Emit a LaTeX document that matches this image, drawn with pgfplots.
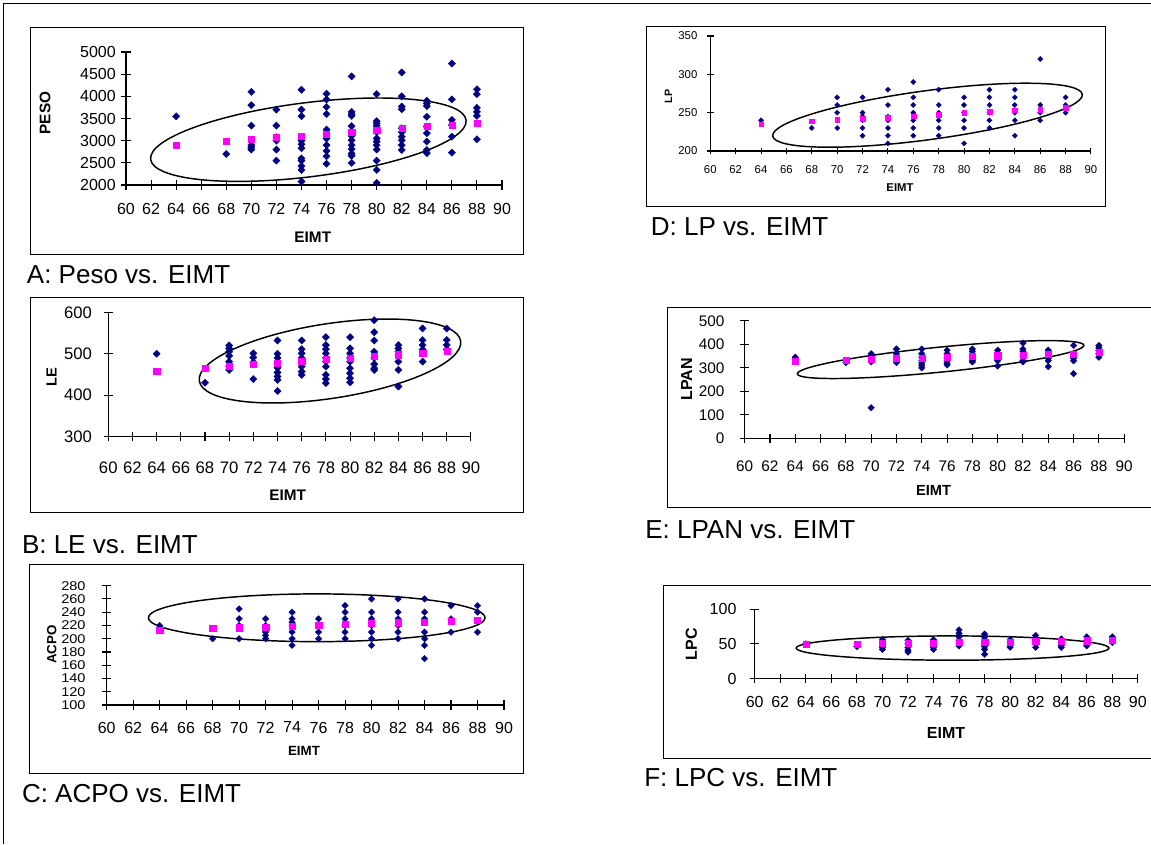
\documentclass[border=0pt]{standalone}
\usepackage{fontspec}
\setmainfont{Liberation Sans}
\usepackage{pgfplots}
\pgfplotsset{compat=1.18}
\usetikzlibrary{shapes.geometric}
\definecolor{navy}{RGB}{0,0,128}
\definecolor{mag}{RGB}{255,0,255}
\newcommand{\fs}[1]{\fontsize{#1}{#1}\selectfont}
\tikzset{ell/.style={draw, ellipse, line width=1.1pt, inner sep=0pt, outer sep=0pt}}
\pgfplotsset{
  panel/.style={
    scale only axis, anchor=south west, clip=false,
    axis x line=bottom, axis y line=left,
    axis line style={-, line width=0.8pt, black},
    xmin=60, xmax=90, xtick={60,62,...,90},
    tick align=center, major tick length=7pt,
    tick style={black, line width=0.8pt},
    scaled ticks=false,
    /pgf/number format/1000 sep={},
    /pgf/number format/assume math mode=true,
    xticklabel style={anchor=north, inner sep=0pt},
    yticklabel style={anchor=east, inner sep=0pt},
  },
  dia/.style={only marks, mark=square*, mark size=#1, mark options={rotate=45, fill=navy, draw=navy, line width=0.2pt}},
  sq/.style={only marks, mark=square*, mark size=#1, mark options={fill=mag, draw=mag, line width=0.2pt}},
}
\begin{document}
\begin{tikzpicture}
\useasboundingbox (0,0) rectangle (863.25pt,-633pt);
\draw[line width=0.75pt] (2.25pt,-633pt) -- (2.25pt,-2.25pt) -- (863.25pt,-2.25pt);
% boxes
\draw[line width=0.75pt] (22.5pt,-20.25pt) rectangle (392.25pt,-190.5pt);
\draw[line width=0.75pt] (22.5pt,-222.75pt) rectangle (392.25pt,-384pt);
\draw[line width=0.75pt] (21.75pt,-423pt) rectangle (392.25pt,-579.75pt);
\draw[line width=0.75pt] (484.5pt,-19.5pt) rectangle (828.75pt,-154.5pt);
\draw[line width=0.75pt] (500.25pt,-230.25pt) rectangle (866pt,-380.25pt);
\draw[line width=0.75pt] (497.25pt,-438.75pt) rectangle (866pt,-568.5pt);
% captions
\node[anchor=base west, inner sep=0pt, font=\fs{19.5}] at (20pt,-212.5pt) {A: Peso vs. EIMT};
\node[anchor=base west, inner sep=0pt, font=\fs{19.5}] at (16.3pt,-415pt) {B: LE vs. EIMT};
\node[anchor=base west, inner sep=0pt, font=\fs{19.5}] at (16.3pt,-601.5pt) {C: ACPO vs. EIMT};
\node[anchor=base west, inner sep=0pt, font=\fs{19.5}] at (488pt,-176.3pt) {D: LP vs. EIMT};
\node[anchor=base west, inner sep=0pt, font=\fs{19.5}] at (483.75pt,-403.7pt) {E: LPAN vs. EIMT};
\node[anchor=base west, inner sep=0pt, font=\fs{19.5}] at (483pt,-590pt) {F: LPC vs. EIMT};

% ---------------- A ----------------
\begin{axis}[panel, at={(94.5pt,-138.75pt)}, width=282pt, height=99.75pt,
  ymin=2000, ymax=5000, ytick={2000,2500,...,5000},
  ticklabel style={font=\fs{12}},
  xticklabel style={yshift=-10pt}, yticklabel style={xshift=-4pt}]
\addplot[dia=1.95pt] coordinates {
(64,3550)
(68,2700)
(70,4100)(70,3800)(70,3340)(70,2900)(70,2850)(70,2800)
(72,3700)(72,3340)(72,3080)(72,3000)(72,2800)(72,2550)
(74,4150)(74,3700)(74,3550)(74,3000)(74,2920)(74,2830)(74,2600)(74,2550)(74,2430)(74,2340)(74,2080)
(76,4060)(76,3930)(76,3760)(76,3600)(76,3250)(76,3150)(76,3050)(76,2900)(76,2770)(76,2650)(76,2480)
(78,4450)(78,3650)(78,3600)(78,3560)(78,3330)(78,3200)(78,3110)(78,3010)(78,2900)(78,2810)(78,2710)(78,2660)(78,2500)
(80,4050)(80,3440)(80,3390)(80,3340)(80,3190)(80,3050)(80,2980)(80,2900)(80,2800)(80,2550)(80,2340)(80,2050)
(82,4540)(82,4000)(82,3770)(82,3710)(82,3280)(82,3190)(82,3090)(82,3010)(82,2900)(82,2790)
(84,3900)(84,3840)(84,3780)(84,3540)(84,3320)(84,3170)(84,2980)(84,2790)(84,2720)
(86,4740)(86,3930)(86,3470)(86,3350)(86,3090)(86,2730)
(88,4160)(88,4050)(88,3740)(88,3650)(88,3560)(88,3030)
};
\addplot[sq=2.3pt] coordinates {
(64,2900)(68,2985)(70,3030)(72,3075)(74,3105)(76,3143)(78,3188)(80,3233)(82,3278)(84,3323)(86,3353)(88,3398)
};
\node[ell, minimum width=238.4pt, minimum height=55.6pt, rotate=7.1] at (axis cs:74.55,3022) {};
\end{axis}
\node[rotate=90, font=\bfseries\fs{11.5}] at (33.75pt,-84.75pt) {PESO};
\node[font=\bfseries\fs{11.5}] at (234.6pt,-178.1pt) {EIMT};

% ---------------- B ----------------
\begin{axis}[panel, at={(81.2pt,-327.5pt)}, width=272pt, height=93.3pt,
  ymin=300, ymax=600, ytick={300,400,500,600},
  ticklabel style={font=\fs{12.5}},
  xticklabel style={yshift=-15pt}, yticklabel style={xshift=-8.5pt}]
\addplot[dia=1.95pt] coordinates {
(64,500)
(68,430)
(70,520)(70,513)(70,505)(70,495)(70,481)(70,470)(70,461)
(72,501)(72,491)(72,480)(72,439)
(74,532)(74,500)(74,490)(74,478)(74,466)(74,455)(74,445)(74,437)(74,410)
(76,532)(76,511)(76,501)(76,490)(76,481)(76,469)(76,457)(76,449)
(78,540)(78,521)(78,511)(78,501)(78,490)(78,481)(78,469)(78,449)(78,439)(78,429)
(80,540)(80,513)(80,501)(80,490)(80,481)(80,465)(80,453)(80,441)(80,431)
(82,581)(82,552)(82,532)(82,505)(82,490)(82,475)(82,465)(82,461)
(84,521)(84,513)(84,505)(84,497)(84,481)(84,461)(84,421)
(86,561)(86,533)(86,521)(86,510)(86,481)
(88,561)(88,533)(88,521)(88,510)
};
\addplot[sq=2.3pt] coordinates {
(64,458)(68,466)(70,470)(72,474)(74,478)(76,482)(78,486)(80,490)(82,494)(84,498)(86,502)(88,506)
};
\node[ell, minimum width=198.3pt, minimum height=56pt, rotate=8.7] at (axis cs:78.34,482.5) {};
\end{axis}
\node[rotate=90, font=\bfseries\fs{11}] at (38.75pt,-283.1pt) {LE};
\node[font=\bfseries\fs{11.5}] at (215.8pt,-371.25pt) {EIMT};

% ---------------- C ----------------
\begin{axis}[panel, at={(80pt,-528.75pt)}, width=298pt, height=89.5pt,
  ymin=100, ymax=280, ytick={100,120,...,280},
  xticklabel style={font=\fs{12}, yshift=-9pt},
  yticklabel style={font=\fs{9.5}, xscale=1.15, xshift=-10.5pt}]
\addplot[dia=1.75pt] coordinates {
(64,220)
(68,200)
(70,245)(70,230)(70,220)(70,200)
(72,230)(72,220)(72,210)(72,205)(72,200)
(74,240)(74,230)(74,225)(74,220)(74,210)(74,200)(74,190)
(76,230)(76,220)(76,210)(76,200)
(78,250)(78,240)(78,230)(78,220)(78,210)(78,200)
(80,260)(80,240)(80,230)(80,220)(80,210)(80,200)(80,190)
(82,260)(82,240)(82,230)(82,220)(82,210)(82,200)
(84,260)(84,240)(84,230)(84,210)(84,200)(84,190)(84,170)
(86,250)(86,230)(86,210)
(88,250)(88,240)(88,210)
};
\addplot[sq=2.3pt] coordinates {
(64,213)(68,215.5)(70,216.8)(72,218)(74,219.3)(76,220.5)(78,221.8)(80,223)(82,224.3)(84,225.5)(86,226.8)(88,228)
};
\node[ell, minimum width=252.5pt, minimum height=35.8pt] at (axis cs:75.86,231.6) {};
\end{axis}
\node[rotate=90, font=\bfseries\fs{10}] at (38.75pt,-483.4pt) {ACPO};
\node[font=\bfseries\fs{10}] at (228pt,-563.25pt) {EIMT};

% ---------------- D ----------------
\begin{axis}[panel, at={(532.7pt,-113.25pt)}, width=285.5pt, height=86.25pt,
  ymin=200, ymax=350, ytick={200,250,300,350}, major tick length=5pt,
  ticklabel style={font=\fs{8.5}},
  xticklabel style={yshift=-8.3pt}, yticklabel style={xshift=-7pt}]
\addplot[dia=1.4pt] coordinates {
(64,240)
(68,230)
(70,270)(70,260)(70,250)(70,230)
(72,270)(72,250)(72,245)(72,240)(72,230)(72,220)
(74,280)(74,260)(74,245)(74,240)(74,230)(74,220)(74,210)
(76,290)(76,270)(76,260)(76,250)(76,240)(76,230)(76,220)
(78,280)(78,260)(78,250)(78,240)(78,230)(78,220)
(80,270)(80,260)(80,250)(80,240)(80,230)(80,210)
(82,280)(82,270)(82,260)(82,250)(82,240)(82,230)
(84,280)(84,270)(84,260)(84,250)(84,240)(84,220)
(86,320)(86,260)(86,250)(86,240)
(88,270)(88,260)(88,250)
};
\addplot[sq=1.75pt] coordinates {
(64,235)(68,239)(70,241.3)(72,242.6)(74,243.9)(76,245.6)(78,247.8)(80,250)(82,251.7)(84,253.5)(86,254.3)(88,256.5)
};
\node[ell, minimum width=234.3pt, minimum height=36.75pt, rotate=7.67] at (axis cs:77.12,246.7) {};
\end{axis}
\node[rotate=90, font=\bfseries\fs{8}] at (501.25pt,-72.5pt) {LP};
\node[font=\bfseries\fs{8.5}] at (675pt,-140.6pt) {EIMT};

% ---------------- E ----------------
\begin{axis}[panel, at={(558.5pt,-328.7pt)}, width=284.6pt, height=88.1pt,
  ymin=0, ymax=500, ytick={0,100,...,500},
  ticklabel style={font=\fs{11.5}},
  xticklabel style={yshift=-13.2pt}, yticklabel style={xshift=-11.5pt}]
\addplot[dia=1.75pt] coordinates {
(64,345)
(68,322)
(70,360)(70,350)(70,340)(70,325)(70,130)
(72,380)(72,360)(72,350)(72,330)(72,322)
(74,380)(74,360)(74,345)(74,330)(74,320)(74,310)(74,300)
(76,375)(76,360)(76,350)(76,340)(76,330)(76,320)(76,312)
(78,380)(78,370)(78,360)(78,350)(78,340)(78,330)(78,325)
(80,375)(80,360)(80,340)(80,330)(80,308)
(82,405)(82,380)(82,370)(82,350)(82,330)(82,325)
(84,375)(84,360)(84,340)(84,330)(84,305)
(86,395)(86,350)(86,340)(86,330)(86,275)
(88,395)(88,385)(88,375)(88,360)(88,345)
};
\addplot[sq=2.3pt] coordinates {
(64,328)(68,332)(70,336)(72,340)(74,341)(76,345)(78,349)(80,352)(82,353)(84,357)(86,358)(88,365)
};
\node[ell, minimum width=216pt, minimum height=18.75pt, rotate=5.7] at (axis cs:75.49,335) {};
\end{axis}
\node[rotate=90, font=\bfseries\fs{12}] at (515pt,-284.6pt) {LPAN};
\node[font=\bfseries\fs{11}] at (700.2pt,-367.5pt) {EIMT};

% ---------------- F ----------------
\begin{axis}[panel, at={(566pt,-508.9pt)}, width=287.4pt, height=52.1pt,
  ymin=0, ymax=100, ytick={0,50,100},
  ticklabel style={font=\fs{12}},
  xticklabel style={yshift=-10pt}, yticklabel style={xshift=-10pt}]
\addplot[dia=1.75pt] coordinates {
(64,50)
(68,46)
(70,56)(70,52)(70,48)(70,45)(70,42)
(72,55)(72,50)(72,45)(72,41)(72,38)
(74,56)(74,52)(74,48)(74,45)(74,42)
(76,70)(76,65)(76,60)(76,55)(76,50)(76,47)
(78,64)(78,60)(78,56)(78,50)(78,46)(78,42)(78,35)
(80,56)(80,52)(80,48)(80,45)
(82,62)(82,58)(82,54)(82,50)(82,45)
(84,57)(84,52)(84,48)(84,45)
(86,60)(86,55)(86,50)(86,47)
(88,60)(88,56)(88,52)
};
\addplot[sq=2.3pt] coordinates {
(64,49.5)(68,50)(70,50.5)(72,51)(74,51.5)(76,52)(78,52.5)(80,53)(82,53.5)(84,54)(86,54.5)(88,55)
};
\node[ell, minimum width=234.6pt, minimum height=18.2pt] at (axis cs:75.49,43.9) {};
\end{axis}
\node[rotate=90, font=\bfseries\fs{12}] at (518.5pt,-483pt) {LPC};
\node[font=\bfseries\fs{12}] at (709.5pt,-549.4pt) {EIMT};
\end{tikzpicture}
\end{document}
